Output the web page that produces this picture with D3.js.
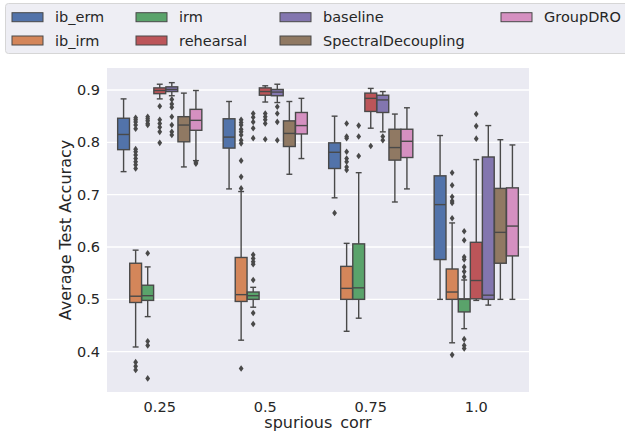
<!DOCTYPE html>
<html>
<head>
<meta charset="utf-8">
<script src="https://cdn.jsdelivr.net/npm/d3@7"></script>
<style>
  body { margin: 0; background: #ffffff; }
  svg text { font-family: "DejaVu Sans", sans-serif; fill: #262626; }
</style>
</head>
<body>
<div id="chart"></div>
<script>
// x categories and hue order
var categories = ["0.25", "0.5", "0.75", "1.0"];
var methods = ["ib_erm", "ib_irm", "irm", "rehearsal", "baseline", "SpectralDecoupling", "GroupDRO"];
var palette = ["#5273aa", "#d4865a", "#5aa36b", "#bc5559", "#8376af", "#907963", "#d590c1"];
var yTicks = [0.4, 0.5, 0.6, 0.7, 0.8, 0.9];

// box stats per category: [whisker low, q1, median, q3, whisker high]
var ib_erm = [[0.744, 0.786, 0.815, 0.846, 0.883], [0.711, 0.789, 0.810, 0.845, 0.878], [0.694, 0.750, 0.781, 0.799, 0.850], [0.500, 0.576, 0.681, 0.736, 0.813]];
var ib_irm = [[0.409, 0.494, 0.506, 0.569, 0.594], [0.422, 0.496, 0.509, 0.580, 0.706], [0.439, 0.500, 0.521, 0.563, 0.607], [0.417, 0.500, 0.514, 0.558, 0.646]];
var irm = [[0.467, 0.498, 0.507, 0.527, 0.562], [0.485, 0.500, 0.507, 0.514, 0.523], [0.464, 0.500, 0.522, 0.606, 0.742], [0.444, 0.476, 0.500, 0.501, 0.537]];
var rehearsal = [[0.883, 0.893, 0.899, 0.904, 0.911], [0.877, 0.890, 0.897, 0.904, 0.908], [0.827, 0.859, 0.884, 0.894, 0.903], [0.498, 0.501, 0.536, 0.609, 0.767]];
var baseline = [[0.889, 0.897, 0.901, 0.906, 0.914], [0.876, 0.889, 0.896, 0.901, 0.911], [0.820, 0.857, 0.881, 0.890, 0.897], [0.489, 0.500, 0.508, 0.772, 0.832]];
var spectral = [[0.753, 0.801, 0.833, 0.849, 0.894], [0.739, 0.792, 0.817, 0.841, 0.878], [0.686, 0.766, 0.790, 0.825, 0.854], [0.500, 0.569, 0.628, 0.712, 0.805]];
var groupdro = [[0.765, 0.823, 0.842, 0.863, 0.899], [0.769, 0.816, 0.832, 0.857, 0.884], [0.711, 0.771, 0.802, 0.825, 0.866], [0.500, 0.583, 0.640, 0.713, 0.795]];

// outliers per category
var ib_erm_out = [[], [], [0.665], []];
var ib_irm_out = [[0.847, 0.843, 0.839, 0.833, 0.826, 0.787, 0.782, 0.776, 0.769, 0.763, 0.757, 0.750, 0.380, 0.372, 0.365],
                  [0.843, 0.838, 0.833, 0.825, 0.820, 0.814, 0.804, 0.798, 0.765, 0.734, 0.712, 0.368],
                  [0.836, 0.811, 0.808, 0.782, 0.769, 0.763, 0.753, 0.747],
                  [0.742, 0.718, 0.696, 0.688, 0.684, 0.655, 0.394]];
var irm_out = [[0.849, 0.845, 0.841, 0.836, 0.833, 0.588, 0.420, 0.412, 0.349],
               [0.855, 0.848, 0.839, 0.827, 0.808, 0.585, 0.578, 0.572, 0.567, 0.537, 0.474, 0.453],
               [0.832, 0.811, 0.774],
               [0.630, 0.613, 0.581, 0.576, 0.562, 0.553, 0.543, 0.424, 0.412, 0.406]];
var rehearsal_out = [[0.869, 0.843, 0.836, 0.829, 0.820, 0.799], [0.855, 0.849, 0.843, 0.836, 0.806], [0.793], [0.854, 0.831, 0.807]];
var baseline_out = [[0.882, 0.873, 0.867, 0.849, 0.833, 0.820, 0.814], [0.868, 0.855, 0.839, 0.804], [0.811, 0.804], []];
var spectral_out = [[], [], [], []];
var groupdro_out = [[0.762, 0.759], [], [], []];

var stats = [ib_erm, ib_irm, irm, rehearsal, baseline, spectral, groupdro];
var fliers = [ib_erm_out, ib_irm_out, irm_out, rehearsal_out, baseline_out, spectral_out, groupdro_out];

var svgW = 625, svgH = 431;
var plotL = 107, plotR = 529, plotT = 68, plotB = 392;
var lineColor = "#494949";

var svg = d3.select("#chart").append("svg")
    .attr("width", svgW)
    .attr("height", svgH);

var x = d3.scaleBand().domain(categories).range([plotL, plotR]);
var hue = d3.scaleBand().domain(methods)
    .range([x.bandwidth() * 0.1, x.bandwidth() * 0.9]);
var y = d3.scaleLinear().domain([0.323, 0.942]).range([plotB, plotT]);

svg.append("rect")
    .attr("x", plotL).attr("y", plotT)
    .attr("width", plotR - plotL).attr("height", plotB - plotT)
    .attr("fill", "#eaeaf2");

svg.append("g").selectAll("line")
    .data(yTicks)
    .enter().append("line")
    .attr("x1", plotL).attr("x2", plotR)
    .attr("y1", function(d) { return y(d); })
    .attr("y2", function(d) { return y(d); })
    .attr("stroke", "#ffffff")
    .attr("stroke-width", 1.3);

// axes
var yAxis = svg.append("g")
    .attr("transform", "translate(" + plotL + ",0)")
    .call(d3.axisLeft(y).tickValues(yTicks).tickFormat(d3.format(".1f")).tickSize(0).tickPadding(7));
var xAxis = svg.append("g")
    .attr("transform", "translate(0," + plotB + ")")
    .call(d3.axisBottom(x).tickSize(0).tickPadding(9.5));
[yAxis, xAxis].forEach(function(a) {
    a.select(".domain").remove();
    a.selectAll("text").style("font-size", "14.5px").attr("fill", "#262626");
});

svg.append("text")
    .attr("x", (plotL + plotR) / 2).attr("y", 428)
    .attr("text-anchor", "middle")
    .style("font-size", "16px")
    .text("spurious_corr");
svg.append("text")
    .attr("transform", "translate(71," + ((plotT + plotB) / 2) + ") rotate(-90)")
    .attr("text-anchor", "middle")
    .style("font-size", "16px")
    .text("Average Test Accuracy");

// boxes
var rows = [];
methods.forEach(function(m, mi) {
    categories.forEach(function(c, ci) {
        var s = stats[mi][ci];
        rows.push({ method: m, mi: mi, cat: c, lo: s[0], q1: s[1], med: s[2], q3: s[3], hi: s[4], out: fliers[mi][ci] });
    });
});

var boxW = hue.bandwidth() * 0.98;
var g = svg.append("g").selectAll("g")
    .data(rows)
    .enter().append("g")
    .attr("transform", function(d) {
        return "translate(" + (x(d.cat) + hue(d.method) + hue.bandwidth() / 2) + ",0)";
    });

g.append("line")
    .attr("x1", 0).attr("x2", 0)
    .attr("y1", function(d) { return y(d.hi); })
    .attr("y2", function(d) { return y(d.q3); })
    .attr("stroke", lineColor).attr("stroke-width", 1.4);
g.append("line")
    .attr("x1", 0).attr("x2", 0)
    .attr("y1", function(d) { return y(d.q1); })
    .attr("y2", function(d) { return y(d.lo); })
    .attr("stroke", lineColor).attr("stroke-width", 1.4);
g.selectAll(".cap")
    .data(function(d) { return [d.lo, d.hi]; })
    .enter().append("line")
    .attr("x1", -boxW / 4).attr("x2", boxW / 4)
    .attr("y1", function(v) { return y(v); })
    .attr("y2", function(v) { return y(v); })
    .attr("stroke", lineColor).attr("stroke-width", 1.4);
g.append("rect")
    .attr("x", -boxW / 2).attr("width", boxW)
    .attr("y", function(d) { return y(d.q3); })
    .attr("height", function(d) { return y(d.q1) - y(d.q3); })
    .attr("fill", function(d) { return palette[d.mi]; })
    .attr("stroke", lineColor).attr("stroke-width", 1.4);
g.append("line")
    .attr("x1", -boxW / 2).attr("x2", boxW / 2)
    .attr("y1", function(d) { return y(d.med); })
    .attr("y2", function(d) { return y(d.med); })
    .attr("stroke", lineColor).attr("stroke-width", 1.4);
g.selectAll(".flier")
    .data(function(d) { return d.out; })
    .enter().append("path")
    .attr("d", "M0,-3.3L2.4,0L0,3.3L-2.4,0Z")
    .attr("transform", function(v) { return "translate(0," + y(v) + ")"; })
    .attr("fill", lineColor);

// legend
var legend = svg.append("g");
legend.append("rect")
    .attr("x", 5.5).attr("y", 3.5)
    .attr("width", 640).attr("height", 50)
    .attr("rx", 3)
    .attr("fill", "#eeeef4")
    .attr("stroke", "#d6d6d6");
var colX = [12, 136, 280, 501];
var rowY = [17.2, 40.5];
var item = legend.selectAll(".item")
    .data(methods)
    .enter().append("g")
    .attr("transform", function(d, i) {
        return "translate(" + colX[Math.floor(i / 2)] + "," + rowY[i % 2] + ")";
    });
item.append("rect")
    .attr("x", 0).attr("y", -4.5)
    .attr("width", 31).attr("height", 9)
    .attr("fill", function(d, i) { return palette[i]; })
    .attr("stroke", lineColor).attr("stroke-width", 1);
item.append("text")
    .attr("x", 43).attr("y", 5.2)
    .style("font-size", "14.5px")
    .text(function(d) { return d; });
</script>
</body>
</html>
